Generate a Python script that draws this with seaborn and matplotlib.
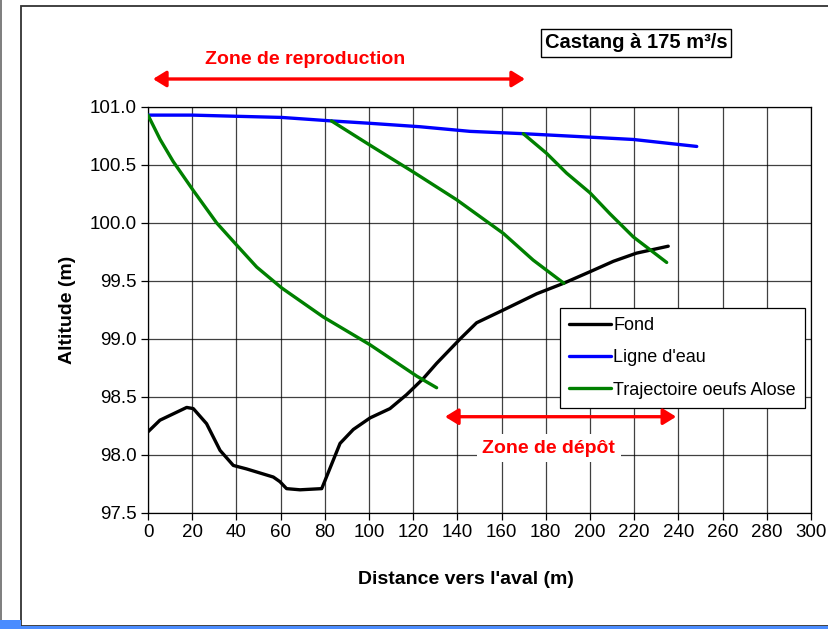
import numpy as np
import pandas as pd
import matplotlib
matplotlib.use("Agg")
import matplotlib.pyplot as plt
from matplotlib.patches import Rectangle
from matplotlib.lines import Line2D
import seaborn as sns

# ---- data ----
fond_x = [0, 5.4, 12, 17.5, 20.5, 26.5, 32.6, 38.6, 44.6, 56.7, 59.7, 62.7, 68.8, 78.6, 80.1,
          86.9, 92.9, 100.5, 109.5, 117, 124.6, 130.6, 141.2, 148.7, 160.8, 175.9, 188,
          200, 210.6, 221, 235.4]
fond_y = [98.20, 98.30, 98.36, 98.41, 98.40, 98.27, 98.04, 97.91, 97.88, 97.81, 97.77, 97.71,
          97.70, 97.71, 97.78, 98.10, 98.22, 98.32, 98.40, 98.52, 98.66, 98.79, 99.00, 99.14,
          99.25, 99.39, 99.48, 99.58, 99.67, 99.74, 99.80]

eau_x = [0, 20, 40, 60.5, 83, 100, 123, 145.7, 169.8, 200, 219.6, 248.3]
eau_y = [100.93, 100.93, 100.92, 100.91, 100.88, 100.86, 100.83, 100.79, 100.77, 100.74, 100.72, 100.66]

traj1_x = [0, 5.5, 11.4, 20.5, 31.1, 40.1, 49.2, 60.5, 79.3, 100.5, 121.6, 130.6]
traj1_y = [100.93, 100.72, 100.53, 100.28, 100.00, 99.81, 99.62, 99.44, 99.19, 98.95, 98.68, 98.58]

traj2_x = [83, 100.5, 120, 139.7, 160.8, 174.3, 188.2]
traj2_y = [100.88, 100.67, 100.44, 100.20, 99.91, 99.68, 99.48]

traj3_x = [169.8, 180.4, 189.4, 200, 209, 219.6, 234.7]
traj3_y = [100.77, 100.60, 100.43, 100.26, 100.08, 99.88, 99.66]

x_ticks = list(range(0, 301, 20))
y_ticks = [97.5, 98.0, 98.5, 99.0, 99.5, 100.0, 100.5, 101.0]

series_names = ["Fond", "Ligne d'eau", "Trajectoire oeufs Alose"]
colors = {"Fond": "#000000", "Ligne d'eau": "#0000FF", "Trajectoire oeufs Alose": "#008000"}

rows = []
for x, y in zip(fond_x, fond_y):
    rows.append(("Fond", "f", x, y))
for x, y in zip(eau_x, eau_y):
    rows.append(("Ligne d'eau", "e", x, y))
for name, xs, ys in [("t1", traj1_x, traj1_y), ("t2", traj2_x, traj2_y), ("t3", traj3_x, traj3_y)]:
    for x, y in zip(xs, ys):
        rows.append(("Trajectoire oeufs Alose", name, x, y))
df = pd.DataFrame(rows, columns=["serie", "seg", "x", "y"])

# ---- figure ----
sns.set_theme(style="white")
plt.rcParams["font.family"] = ["Liberation Sans", "DejaVu Sans"]
plt.rcParams["text.color"] = "#000000"
plt.rcParams["axes.labelcolor"] = "#000000"
plt.rcParams["xtick.color"] = "#000000"
plt.rcParams["ytick.color"] = "#000000"

W, H = 829, 629
fig = plt.figure(figsize=(W / 100, H / 100), dpi=100)
L, R, T, B = 148, 811, 107, 513
ax = fig.add_axes([L / W, 1 - B / H, (R - L) / W, (B - T) / H])

for seg, g in df.groupby("seg", sort=False):
    s = g["serie"].iloc[0]
    sns.lineplot(data=g, x="x", y="y", sort=False, estimator=None, color=colors[s],
                 linewidth=2.4, ax=ax, legend=False, zorder=3)

ax.set_xlim(0, 300)
ax.set_ylim(97.5, 101.0)
ax.set_xticks(x_ticks)
ax.set_yticks(y_ticks)
ax.set_yticklabels([f"{v:.1f}" for v in y_ticks])
ax.set_xticklabels([str(v) for v in x_ticks])
ax.grid(True, color="#000000", linewidth=0.9, alpha=0.75)
ax.set_axisbelow(True)
for sp in ax.spines.values():
    sp.set_color("#000000")
    sp.set_linewidth(0.9)
ax.tick_params(axis="both", which="both", direction="out", length=5, width=0.9,
               colors="#000000", labelcolor="#000000", labelsize=13.5, pad=3,
               left=True, bottom=True)
ax.set_xlabel("Distance vers l'aval (m)", fontsize=14, fontweight="bold", color="#000000")
ax.set_ylabel("Altitude (m)", fontsize=14, fontweight="bold", color="#000000")
ax.xaxis.set_label_coords((466 - L) / (R - L), -(580 - B) / (B - T))
ax.yaxis.set_label_coords(-(L - 68) / (R - L), 0.5)
ax.xaxis.label.set_va("center")
ax.yaxis.label.set_va("center")

# legend
handles = [Line2D([0], [0], color=colors[n], linewidth=2.4) for n in series_names]
leg = ax.legend(handles, series_names, loc="upper left",
                bbox_to_anchor=((560 - L) / (R - L), 1 - (308 - T) / (B - T)),
                frameon=True, fancybox=False, edgecolor="#000000", framealpha=1,
                fontsize=13, handlelength=2.3, handletextpad=0.15, labelspacing=0.85,
                borderpad=0.5, borderaxespad=0, labelcolor="#000000")
leg.get_frame().set_linewidth(0.9)
leg.set_zorder(5)

red = "#FF0000"
arrow_style = dict(arrowstyle="<|-|>,head_length=0.65,head_width=0.4", color=red, lw=2.4,
                   shrinkA=0, shrinkB=0)
# Zone de reproduction (above the plot area)
ax.annotate("", xy=(153 / W, 1 - 79 / H), xytext=(525 / W, 1 - 79 / H),
            xycoords="figure fraction", textcoords="figure fraction",
            arrowprops=arrow_style, annotation_clip=False)
fig.text(305 / W, 1 - 60 / H, "Zone de reproduction", color=red, fontsize=14, fontweight="bold",
         ha="center", va="center")
# Zone de depot
ax.annotate("", xy=(134.4, 98.33), xytext=(239, 98.33), xycoords="data",
            arrowprops=arrow_style, zorder=6)
ax.text(181.4, 98.06, "Zone de dépôt", color=red, fontsize=14, fontweight="bold",
        ha="center", va="center", zorder=6,
        bbox=dict(boxstyle="square,pad=0.3", facecolor="white", edgecolor="none"))

# title box
fig.text(636 / W, 1 - 43 / H, "Castang à 175 m³/s", fontsize=14.5, fontweight="bold",
         ha="center", va="center", color="#000000",
         bbox=dict(boxstyle="square,pad=0.2", facecolor="white", edgecolor="#000000", linewidth=1))

# outer frame decorations
fig.patches.append(Rectangle((21 / W, 1 - 626 / H), 1.0, (626 - 6) / H, transform=fig.transFigure,
                             fill=False, edgecolor="#333333", linewidth=1.3, figure=fig))
fig.patches.append(Rectangle((0, 0), 2 / W, 1, transform=fig.transFigure,
                             facecolor="#808080", edgecolor="none", figure=fig))
fig.patches.append(Rectangle((0, 0), 21 / W, 9 / H, transform=fig.transFigure,
                             facecolor="#4A8CFF", edgecolor="none", figure=fig))
fig.patches.append(Rectangle((21 / W, 0), 1, 3 / H, transform=fig.transFigure,
                             facecolor="#4A8CFF", edgecolor="none", figure=fig))

fig.savefig("out.png", dpi=100)
